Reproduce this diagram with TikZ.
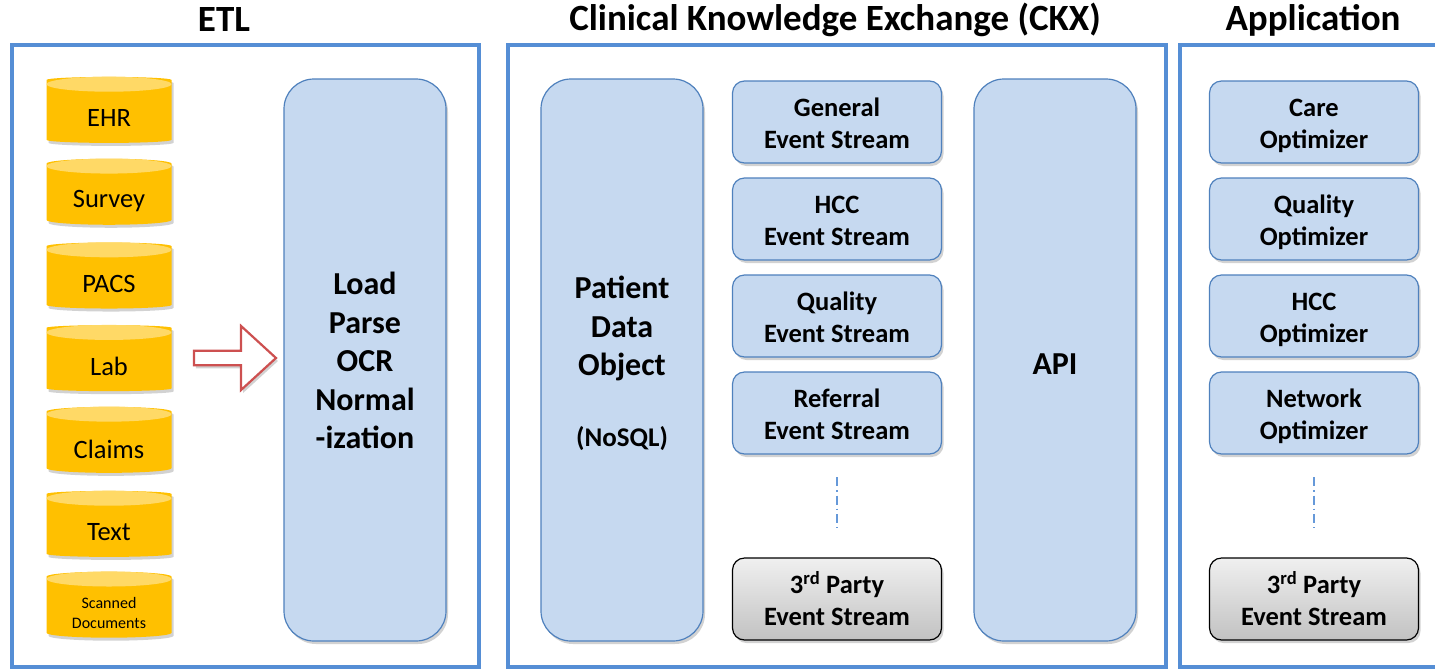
\documentclass[tikz,border=0pt]{standalone}
\usepackage{fontspec}
\setmainfont{Carlito}
\usetikzlibrary{shapes.geometric,shapes.arrows,shadows}
\definecolor{panelblue}{RGB}{85,142,213}
\definecolor{boxfill}{RGB}{198,217,240}
\definecolor{boxline}{RGB}{79,129,189}
\definecolor{dbbody}{RGB}{255,192,0}
\definecolor{dbtop}{RGB}{255,217,102}
\definecolor{arrowred}{RGB}{205,80,80}
% two-line box text with even line heights, sitting slightly low
\newcommand{\twolines}[2]{\rule{0pt}{30.4pt}#1\\\strut #2}
% text lowered inside its node without changing the node's size
\newcommand{\lowered}[2][-6pt]{\raisebox{#1}[\height][\depth]{#2}}
\tikzset{
  panel/.style={draw=panelblue, line width=3.5pt},
  paneltitle/.style={font=\bfseries\fontsize{37}{40}\selectfont},
  softshadow/.style={drop shadow={shadow xshift=2pt, shadow yshift=-3pt, opacity=0.35}},
  tallbox/.style={draw=boxline, fill=boxfill, line width=1.2pt, rounded corners=30pt,
    minimum width=162pt, minimum height=562pt, align=center, softshadow,
    font=\bfseries\fontsize{32}{38.5}\selectfont},
  streambox/.style={draw=boxline, fill=boxfill, line width=1.2pt, rounded corners=12pt,
    minimum width=209pt, minimum height=82pt, align=center, softshadow,
    font=\bfseries\fontsize{26.5}{32}\selectfont},
  thirdbox/.style={streambox, draw=black, shade, top color=white!94!black, bottom color=white!76!black},
  db/.style={cylinder, shape border rotate=90, aspect=0.12, draw=none, fill=dbbody,
    minimum width=125pt, minimum height=66pt, softshadow,
    font=\fontsize{26.5}{28}\selectfont},
  dbcap/.style={fill=dbtop},
  dots/.style={draw=panelblue!90!white, line width=1.4pt, dash pattern=on 9pt off 4pt on 1.5pt off 4pt},
}
\begin{document}
\begin{tikzpicture}[x=1pt, y=-1pt]
\useasboundingbox (0,0) rectangle (1435,670);
\clip (0,0) rectangle (1435,670);
\fill[white] (0,0) rectangle (1435,670);

% panels and their headings
\draw[panel] (12,45) rectangle (479,667);
\draw[panel] (508,45) rectangle (1166,667);
\draw[panel] (1180,45) rectangle (1450,667);
\node[paneltitle] (tetl) at (224,20) {ETL};
\node[paneltitle] (tckx) at (835,20) {Clinical Knowledge Exchange (CKX)};
\node[paneltitle] (tapp) at (1313,20) {Application};

% data sources
\node[db] (ehr) at (109,112) {\lowered{EHR}};
\node[db] (survey) at (109,195) {\lowered{Survey}};
\node[db] (pacs) at (109,278) {\lowered{PACS}};
\node[db] (lab) at (109,360) {\lowered{Lab}};
\node[db] (claims) at (109,443) {\lowered{Claims}};
\node[db] (text) at (109,526) {\lowered{Text}};
\node[db, font=\fontsize{16}{20}\selectfont] (scan) at (109,608)
  {\lowered{\begin{tabular}{@{}c@{}}Scanned\\Documents\end{tabular}}};
% lighter lids on the cylinders
\foreach \n in {ehr,survey,pacs,lab,claims,text,scan}
  \fill[dbcap] (\n.top) ++(0,7.5) ellipse [x radius=62.5, y radius=7.5];

% ingestion arrow
\node[single arrow, draw=arrowred, fill=white, line width=2.2pt,
  minimum width=64pt, minimum height=82pt, single arrow head extend=15pt,
  single arrow tip angle=85, anchor=center, softshadow] (ingest) at (231,358) {};

% ETL processing
\node[tallbox] (load) at (365,360) {\lowered[-4pt]{\begin{tabular}{@{}c@{}}Load\\Parse\\OCR\\Normal\\-ization\end{tabular}}};

% CKX
\node[tallbox] (pdo) at (622,360) {\lowered[-5pt]{\begin{tabular}{@{}c@{}}Patient\\Data\\Object\\[32pt]{\fontsize{27}{30}\selectfont(NoSQL)}\end{tabular}}};
\node[streambox] (gen) at (837,122) {\twolines{General}{Event Stream}};
\node[streambox] (hcc) at (837,219) {\twolines{HCC}{Event Stream}};
\node[streambox] (qual) at (837,316) {\twolines{Quality}{Event Stream}};
\node[streambox] (ref) at (837,413) {\twolines{Referral}{Event Stream}};
\coordinate (ckxa) at (837,477);
\coordinate (ckxb) at (837,528);
\draw[dots] (ckxa) -- (ckxb);
\node[thirdbox] (ckx3) at (837,599) {\twolines{3\textsuperscript{rd} Party}{Event Stream}};
\node[tallbox] (api) at (1055,360) {\lowered[-4pt]{API}};

% applications
\node[streambox] (care) at (1314,122) {\twolines{Care}{Optimizer}};
\node[streambox] (qopt) at (1314,219) {\twolines{Quality}{Optimizer}};
\node[streambox] (hopt) at (1314,316) {\twolines{HCC}{Optimizer}};
\node[streambox] (nopt) at (1314,413) {\twolines{Network}{Optimizer}};
\coordinate (appa) at (1314,477);
\coordinate (appb) at (1314,528);
\draw[dots] (appa) -- (appb);
\node[thirdbox] (app3) at (1314,599) {\twolines{3\textsuperscript{rd} Party}{Event Stream}};
\end{tikzpicture}
\end{document}
